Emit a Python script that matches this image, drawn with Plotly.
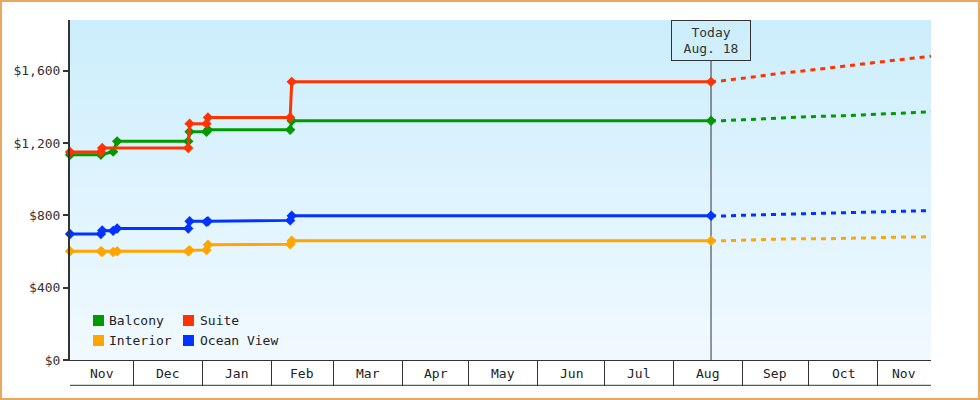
import plotly.graph_objects as go
import pandas as pd

# ---------------- data ----------------
series_names = ["Balcony", "Suite", "Interior", "Ocean View"]
series_colors = ["#009900", "#ff3300", "#ffa500", "#0033ff"]

balcony_dates = ["2022-11-02 12:00", "2022-11-16 10:00", "2022-11-21 22:00", "2022-11-23 17:00",
                 "2022-12-25 17:00", "2022-12-26 08:00", "2023-01-02 22:00", "2023-01-03 14:00",
                 "2023-02-09 14:00", "2023-02-10 07:00", "2023-08-18 00:00"]
balcony_values = [1135, 1135, 1152, 1209, 1209, 1262, 1262, 1273, 1273, 1323, 1323]

suite_dates = ["2022-11-02 12:00", "2022-11-16 10:00", "2022-11-17 00:00",
               "2022-12-25 17:00", "2022-12-26 08:00", "2023-01-02 22:00", "2023-01-03 14:00",
               "2023-02-09 14:00", "2023-02-10 07:00", "2023-08-18 00:00"]
suite_values = [1150, 1150, 1172, 1172, 1307, 1307, 1341, 1341, 1538, 1538]

interior_dates = ["2022-11-02 12:00", "2022-11-16 10:00", "2022-11-17 00:00", "2022-11-21 22:00",
                  "2022-11-23 17:00", "2022-12-25 17:00", "2022-12-26 08:00", "2023-01-02 22:00",
                  "2023-01-03 14:00", "2023-02-09 14:00", "2023-02-10 07:00", "2023-08-18 00:00"]
interior_values = [601, 601, 597, 597, 601, 601, 607, 608, 637, 640, 659, 659]

ocean_dates = interior_dates
ocean_values = [697, 697, 716, 714, 727, 727, 767, 764, 767, 772, 798, 798]

balcony_fc_dates = ["2023-08-18", "2023-08-23", "2023-09-01", "2023-09-14", "2023-09-28",
                    "2023-10-17", "2023-10-25", "2023-11-07", "2023-11-22", "2023-11-25"]
balcony_fc_values = [1323, 1323, 1328, 1336, 1344, 1351, 1356, 1364, 1371, 1372]

suite_fc_dates = ["2023-08-18", "2023-08-23", "2023-09-06", "2023-09-19", "2023-10-02",
                  "2023-10-17", "2023-10-29", "2023-11-12", "2023-11-25"]
suite_fc_values = [1538, 1544, 1565, 1587, 1603, 1623, 1642, 1662, 1680]

interior_fc_dates = ["2023-08-18", "2023-08-23", "2023-09-05", "2023-09-23", "2023-10-11",
                     "2023-10-20", "2023-11-03", "2023-11-12", "2023-11-25"]
interior_fc_values = [659, 659, 664, 670, 671, 675, 677, 680, 681]

ocean_fc_dates = ["2023-08-18", "2023-08-23", "2023-09-01", "2023-09-14", "2023-09-28",
                  "2023-10-11", "2023-10-25", "2023-11-07", "2023-11-17", "2023-11-25"]
ocean_fc_values = [798, 796, 800, 804, 811, 813, 819, 820, 826, 826]

y_tick_values = [0, 400, 800, 1200, 1600]
y_tick_labels = ["$0", "$400", "$800", "$1,200", "$1,600"]

month_labels = ["Nov", "Dec", "Jan", "Feb", "Mar", "Apr", "May", "Jun", "Jul", "Aug", "Sep", "Oct", "Nov"]
month_starts = ["2022-11-01", "2022-12-01", "2023-01-01", "2023-02-01", "2023-03-01", "2023-04-01",
                "2023-05-01", "2023-06-01", "2023-07-01", "2023-08-01", "2023-09-01", "2023-10-01",
                "2023-11-01", "2023-12-01"]

today_date = "2023-08-18"
today_text = "Today<br>Aug. 18"

x_range = ["2022-11-02 12:00", "2023-11-25 00:00"]
y_range = [0, 1880]

# ---------------- layout geometry ----------------
W, H = 980, 400
ML, MR, MT, MB = 70, 49, 20, 40
PW, PH = W - ML - MR, H - MT - MB
FONT = "DejaVu Sans Mono"
DARK = "#333333"


def px_x(x):
    return (x - ML) / PW


def px_y(y):
    return (MT + PH - y) / PH


fig = go.Figure()

hist = [(balcony_dates, balcony_values), (suite_dates, suite_values),
        (interior_dates, interior_values), (ocean_dates, ocean_values)]
fc = [(balcony_fc_dates, balcony_fc_values), (suite_fc_dates, suite_fc_values),
      (interior_fc_dates, interior_fc_values), (ocean_fc_dates, ocean_fc_values)]

draw_order = [2, 3, 0, 1]
for i in draw_order:
    d, v = fc[i]
    fig.add_trace(go.Scatter(x=d, y=v, mode="lines", name=series_names[i], showlegend=False,
                             line=dict(color=series_colors[i], width=3, dash="5px,5px"),
                             cliponaxis=False, hoverinfo="skip"))
for i in draw_order:
    d, v = hist[i]
    fig.add_trace(go.Scatter(x=d, y=v, mode="lines+markers", name=series_names[i], showlegend=False,
                             line=dict(color=series_colors[i], width=3),
                             marker=dict(symbol="diamond", size=8, color=series_colors[i]),
                             cliponaxis=False))

shapes = []
# gradient background of plot area
n_bands = 68
top_c = (204, 238, 252)
bot_c = (241, 249, 255)
for k in range(n_bands):
    t = k / (n_bands - 1)
    c = tuple(round(top_c[j] + (bot_c[j] - top_c[j]) * t) for j in range(3))
    shapes.append(dict(type="rect", xref="paper", yref="paper", x0=0, x1=1,
                       y1=1 - k / n_bands, y0=1 - (k + 1) / n_bands,
                       fillcolor="rgb(%d,%d,%d)" % c, line=dict(width=0), layer="below"))

# today line
shapes.append(dict(type="line", xref="x", yref="paper", x0=today_date, x1=today_date,
                   y0=0, y1=px_y(60.7), line=dict(color=DARK, width=1), layer="below"))
# bottom line of month band
shapes.append(dict(type="line", xref="paper", yref="paper", x0=0, x1=1,
                   y0=px_y(385.3), y1=px_y(385.3), line=dict(color=DARK, width=1)))
# outer border
shapes.append(dict(type="rect", xref="paper", yref="paper", x0=px_x(1), x1=px_x(979),
                   y0=px_y(399), y1=px_y(1), line=dict(color="#e8a862", width=2)))

annotations = []
# month labels centred in visible cells
r0, r1 = pd.Timestamp(x_range[0]), pd.Timestamp(x_range[1])
for k, lab in enumerate(month_labels):
    a = max(pd.Timestamp(month_starts[k]), r0)
    b = min(pd.Timestamp(month_starts[k + 1]), r1)
    mid = a + (b - a) / 2
    annotations.append(dict(x=mid.strftime("%Y-%m-%d %H:%M"), xref="x", y=px_y(373), yref="paper",
                            text=lab, showarrow=False, xanchor="center", yanchor="middle",
                            font=dict(family=FONT, size=13, color="#222222")))

# today box
annotations.append(dict(x=today_date, xref="x", y=1, yref="paper", text=today_text,
                        showarrow=False, xanchor="center", yanchor="top",
                        bordercolor=DARK, borderwidth=1, borderpad=2, width=74, height=35,
                        font=dict(family=FONT, size=13, color=DARK)))

# manual legend: squares + labels (two columns)
legend_pos = [(93, 320.5), (183, 320.5), (93, 340.5), (183, 340.5)]
legend_gap = [2.7, 4.3, 2.7, 4.3]
for i, name in enumerate(series_names):
    sx, sy = legend_pos[i]
    shapes.append(dict(type="rect", xref="paper", yref="paper",
                       x0=px_x(sx), x1=px_x(sx + 11), y0=px_y(sy + 5.5), y1=px_y(sy - 5.5),
                       fillcolor=series_colors[i], line=dict(width=0)))
    annotations.append(dict(x=px_x(sx + 11 + legend_gap[i]), xref="paper", y=px_y(sy), yref="paper",
                            text=name, showarrow=False, xanchor="left", yanchor="middle",
                            font=dict(family=FONT, size=13, color="#222222")))

fig.update_layout(
    width=W, height=H,
    margin=dict(l=ML, r=MR, t=MT, b=MB, pad=0),
    paper_bgcolor="white", plot_bgcolor="rgba(0,0,0,0)",
    font=dict(family=FONT, size=13, color=DARK),
    showlegend=False,
    shapes=shapes, annotations=annotations,
    xaxis=dict(type="date", range=x_range, showgrid=False, zeroline=False,
               showline=True, linecolor=DARK, linewidth=1,
               tickmode="array", tickvals=month_starts[1:-1], ticks="outside",
               ticklen=25, tickwidth=1, tickcolor=DARK, showticklabels=False),
    yaxis=dict(range=y_range, showgrid=False, zeroline=False,
               showline=True, linecolor=DARK, linewidth=2,
               tickmode="array", tickvals=y_tick_values, ticktext=y_tick_labels,
               ticks="outside", ticklen=5, tickwidth=2, tickcolor=DARK,
               tickfont=dict(family=FONT, size=13, color=DARK)),
)

fig.write_html("out.html", config={"displayModeBar": False},
               post_script="document.body.style.margin='0';document.body.style.padding='0';")
